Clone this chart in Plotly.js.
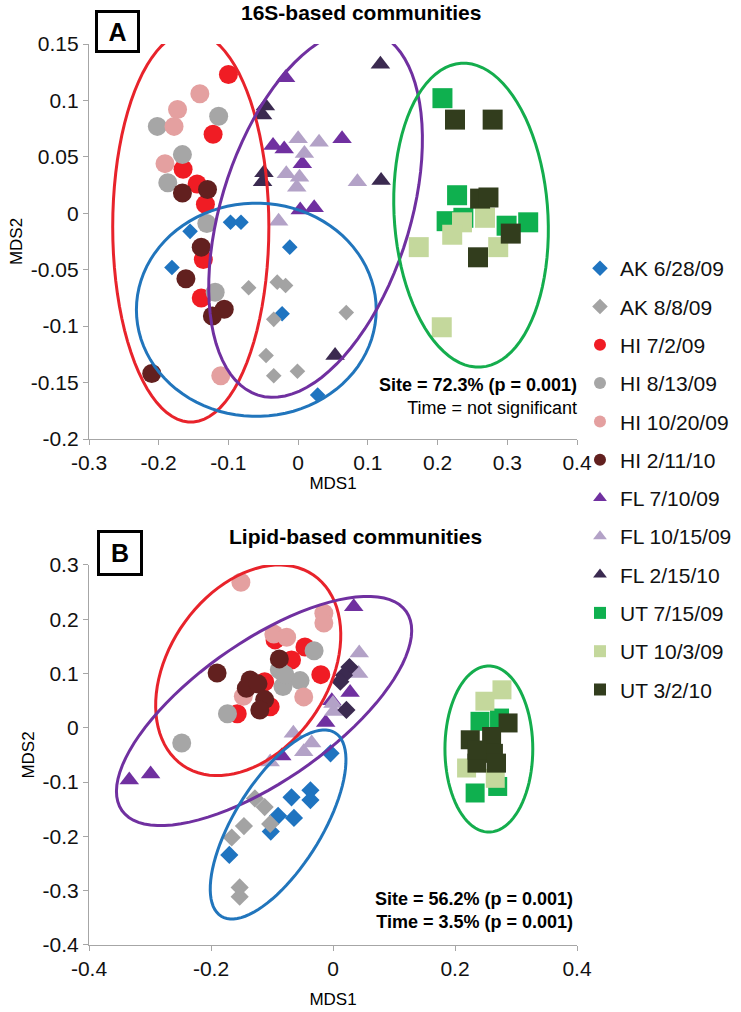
<!DOCTYPE html>
<html>
<head>
<meta charset="utf-8">
<script src="https://cdn.plot.ly/plotly-3.0.1.min.js"></script>
<style>html,body{margin:0;padding:0;background:#fff;}#chart{width:741px;height:1012px;}</style>
</head>
<body>
<div id="chart"></div>
<script>
// ---------- categories / styles ----------
const categories = ['AK 6/28/09','AK 8/8/09','HI 7/2/09','HI 8/13/09','HI 10/20/09','HI 2/11/10',
                    'FL 7/10/09','FL 10/15/09','FL 2/15/10','UT 7/15/09','UT 10/3/09','UT 3/2/10'];
const colors = ['#1f74c0','#a3a3a3','#f01c24','#a6a6a6','#e4a0a0','#62201f',
                '#7030a0','#b3a2c7','#3b2a50','#0fb04f','#c4d89c','#323d1d'];
const symbolsA = ['diamond','diamond','circle','circle','circle','circle',
                  'triangle-up','triangle-up','triangle-up','square','square','square'];
const symbolsB = ['diamond','diamond','circle','circle','circle','circle',
                  'triangle-up','triangle-up','diamond','square','square','square'];

// ---------- Panel A (16S) ----------
const A_AK0628_x = [-0.155,-0.097,-0.082,-0.012,-0.181,-0.023,0.028];
const A_AK0628_y = [-0.016,-0.008,-0.008,-0.030,-0.048,-0.089,-0.161];
const A_AK0808_x = [-0.071,-0.030,-0.018,-0.035,0.069,-0.046,-0.035,-0.001];
const A_AK0808_y = [-0.066,-0.061,-0.064,-0.094,-0.088,-0.126,-0.144,-0.140];
const A_HI0702_x = [-0.100,-0.122,-0.165,-0.145,-0.133,-0.136,-0.139];
const A_HI0702_y = [0.123,0.070,0.039,0.026,0.008,-0.041,-0.075];
const A_HI0813_x = [-0.202,-0.114,-0.166,-0.187,-0.131,-0.119];
const A_HI0813_y = [0.077,0.086,0.052,0.027,-0.009,-0.070];
const A_HI1020_x = [-0.141,-0.173,-0.178,-0.191,-0.111];
const A_HI1020_y = [0.106,0.092,0.077,0.044,-0.144];
const A_HI0211_x = [-0.166,-0.130,-0.139,-0.161,-0.106,-0.123,-0.210];
const A_HI0211_y = [0.018,0.021,-0.030,-0.058,-0.085,-0.091,-0.142];
const A_FL0710_x = [-0.018,-0.036,-0.020,0.063,0.006,0.003,0.023];
const A_FL0710_y = [0.120,0.060,0.057,0.066,0.044,0.003,0.005];
const A_FL1015_x = [0.000,0.030,0.009,-0.017,0.002,-0.002,-0.028,0.085];
const A_FL1015_y = [0.066,0.063,0.053,0.035,0.032,0.023,-0.007,0.028];
const A_FL0215_x = [-0.047,-0.051,-0.049,-0.051,0.118,0.119,0.053];
const A_FL0215_y = [0.095,0.087,0.036,0.028,0.132,0.029,-0.126];
const A_UT0715_x = [0.207,0.228,0.213,0.237,0.299,0.330];
const A_UT0715_y = [0.102,0.016,-0.007,-0.004,-0.011,-0.008];
const A_UT1003_x = [0.235,0.221,0.268,0.287,0.173,0.206];
const A_UT1003_y = [-0.008,-0.019,-0.004,-0.030,-0.030,-0.101];
const A_UT0302_x = [0.225,0.279,0.261,0.273,0.305,0.258];
const A_UT0302_y = [0.083,0.083,0.013,0.014,-0.018,-0.039];

// ---------- Panel B (lipid) ----------
const B_AK0628_x = [-0.004,-0.068,-0.037,-0.037,-0.090,-0.064,-0.102,-0.170];
const B_AK0628_y = [-0.047,-0.128,-0.115,-0.133,-0.162,-0.166,-0.191,-0.234];
const B_AK0808_x = [-0.128,-0.112,-0.103,-0.146,-0.166,-0.153,-0.153];
const B_AK0808_y = [-0.130,-0.146,-0.177,-0.181,-0.202,-0.294,-0.311];
const B_HI0702_x = [-0.046,-0.068,-0.020,-0.157,-0.103,-0.095,-0.112];
const B_HI0702_y = [0.149,0.125,0.098,0.026,0.039,0.162,0.085];
const B_HI0813_x = [-0.031,-0.088,-0.082,-0.054,-0.173,-0.248,-0.079];
const B_HI0813_y = [0.142,0.107,0.076,0.087,0.026,-0.028,0.098];
const B_HI1020_x = [-0.151,-0.015,-0.015,-0.097,-0.076,-0.048,-0.147];
const B_HI1020_y = [0.268,0.211,0.193,0.173,0.167,0.057,0.058];
const B_HI0211_x = [-0.088,-0.190,-0.136,-0.142,-0.123,-0.112,-0.120];
const B_HI0211_y = [0.127,0.101,0.088,0.073,0.081,0.052,0.033];
const B_FL0710_x = [0.034,0.028,-0.002,-0.012,-0.084,-0.334,-0.299];
const B_FL0710_y = [0.223,0.065,0.050,0.010,-0.052,-0.096,-0.085];
const B_FL1015_x = [0.043,0.042,0.000,0.001,-0.065,-0.035,-0.048,-0.103];
const B_FL1015_y = [0.138,0.100,0.045,0.030,-0.010,-0.028,-0.044,-0.063];
const B_FL0215_x = [0.027,0.018,0.012,0.022];
const B_FL0215_y = [0.112,0.097,0.085,0.033];
const B_UT0715_x = [0.241,0.273,0.233,0.270];
const B_UT0715_y = [0.012,0.018,-0.120,-0.108];
const B_UT1003_x = [0.277,0.249,0.219,0.266];
const B_UT1003_y = [0.070,0.049,-0.074,-0.093];
const B_UT0302_x = [0.287,0.225,0.260,0.263,0.236,0.268,0.236];
const B_UT0302_y = [0.009,-0.022,-0.016,-0.047,-0.065,-0.065,-0.041];

// ---------- ticks ----------
const xTicksA = [-0.3,-0.2,-0.1,0,0.1,0.2,0.3,0.4];
const xTickTextA = ['-0.3','-0.2','-0.1','0','0.1','0.2','0.3','0.4'];
const yTicksA = [-0.2,-0.15,-0.1,-0.05,0,0.05,0.1,0.15];
const yTickTextA = ['-0.2','-0.15','-0.1','-0.05','0','0.05','0.1','0.15'];
const xTicksB = [-0.4,-0.2,0,0.2,0.4];
const xTickTextB = ['-0.4','-0.2','0','0.2','0.4'];
const yTicksB = [-0.4,-0.3,-0.2,-0.1,0,0.1,0.2,0.3];
const yTickTextB = ['-0.4','-0.3','-0.2','-0.1','0','0.1','0.2','0.3'];

// ---------- group ellipses: [cx, cy, ux, uy, vx, vy] ----------
const ellA_red    = [-0.154,-0.012, 0.112,0.0, 0.0,0.173];
const ellA_blue   = [-0.060,-0.0855,0.172,0.0, 0.0,0.0945];
const ellA_purple = [0.025,0.000, 0.0826,0.1611, -0.1291,0.02536];
const ellA_green  = [0.248,-0.0017, -0.01418,0.1346, -0.110,-0.00444];
const ellB_red    = [-0.139,0.106, 0.1069,0.1754, -0.1077,0.0828];
const ellB_purple = [-0.113,0.031, 0.233,0.1833, -0.0654,0.1049];
const ellB_blue   = [-0.090,-0.178, 0.0933,0.169, -0.0606,0.0422];
const ellB_green  = [0.2555,-0.039, 0.072,0.0, 0.0,0.153];
const ellColors = {red:'#e8232b', blue:'#2175bc', purple:'#7030a0', green:'#14ad4d'};

const FONT = 'Liberation Sans, Arial, sans-serif';

const seriesA = [[A_AK0628_x,A_AK0628_y],[A_AK0808_x,A_AK0808_y],[A_HI0702_x,A_HI0702_y],[A_HI0813_x,A_HI0813_y],
  [A_HI1020_x,A_HI1020_y],[A_HI0211_x,A_HI0211_y],[A_FL0710_x,A_FL0710_y],[A_FL1015_x,A_FL1015_y],
  [A_FL0215_x,A_FL0215_y],[A_UT0715_x,A_UT0715_y],[A_UT1003_x,A_UT1003_y],[A_UT0302_x,A_UT0302_y]];
const seriesB = [[B_AK0628_x,B_AK0628_y],[B_AK0808_x,B_AK0808_y],[B_HI0702_x,B_HI0702_y],[B_HI0813_x,B_HI0813_y],
  [B_HI1020_x,B_HI1020_y],[B_HI0211_x,B_HI0211_y],[B_FL0710_x,B_FL0710_y],[B_FL1015_x,B_FL1015_y],
  [B_FL0215_x,B_FL0215_y],[B_UT0715_x,B_UT0715_y],[B_UT1003_x,B_UT1003_y],[B_UT0302_x,B_UT0302_y]];

function markerSize(sym, panel){
  if (sym === 'circle') return 19;
  if (sym === 'square') return panel === 'A' ? 20 : 19;
  if (sym === 'diamond') return panel === 'A' ? 12 : 14;
  return 17;
}

const traces = [];
categories.forEach((name, i) => {
  traces.push({
    type:'scatter', mode:'markers', name:name, legendgroup:name, showlegend:true,
    x: seriesA[i][0], y: seriesA[i][1], xaxis:'x', yaxis:'y',
    marker:{symbol:symbolsA[i], color:colors[i], size:markerSize(symbolsA[i],'A'), line:{width:0}}
  });
});
categories.forEach((name, i) => {
  traces.push({
    type:'scatter', mode:'markers', name:name, legendgroup:name, showlegend:false,
    x: seriesB[i][0], y: seriesB[i][1], xaxis:'x2', yaxis:'y2',
    marker:{symbol:symbolsB[i], color:colors[i], size:markerSize(symbolsB[i],'B'), line:{width:0}}
  });
});

function ellipsePath(e){
  const [cx,cy,ux,uy,vx,vy] = e;
  let d = '';
  const n = 90;
  for (let k = 0; k <= n; k++){
    const t = 2*Math.PI*k/n;
    const x = cx + ux*Math.cos(t) + vx*Math.sin(t);
    const y = cy + uy*Math.cos(t) + vy*Math.sin(t);
    d += (k ? 'L' : 'M') + x.toFixed(5) + ',' + y.toFixed(5);
  }
  return d + 'Z';
}
function ellShape(e, color, xr, yr){
  return {type:'path', path:ellipsePath(e), xref:xr, yref:yr, line:{color:color, width:3}, fillcolor:'rgba(0,0,0,0)', layer:'above'};
}
const shapes = [
  ellShape(ellA_red, ellColors.red, 'x','y'),
  ellShape(ellA_blue, ellColors.blue, 'x','y'),
  ellShape(ellA_purple, ellColors.purple, 'x','y'),
  ellShape(ellA_green, ellColors.green, 'x','y'),
  ellShape(ellB_red, ellColors.red, 'x2','y2'),
  ellShape(ellB_purple, ellColors.purple, 'x2','y2'),
  ellShape(ellB_blue, ellColors.blue, 'x2','y2'),
  ellShape(ellB_green, ellColors.green, 'x2','y2')
];

const axisCommon = {
  showline:true, linecolor:'#a6a6a6', linewidth:1.3, ticks:'outside', ticklen:5, tickcolor:'#a6a6a6',
  tickwidth:1.3, showgrid:false, zeroline:false, tickfont:{family:FONT, size:21, color:'#111'}, fixedrange:true
};

const layout = {
  width:741, height:1012,
  margin:{l:89, r:164, t:44, b:67},
  paper_bgcolor:'#fff', plot_bgcolor:'#fff',
  font:{family:FONT, color:'#000'},
  xaxis: Object.assign({}, axisCommon, {domain:[0,1], anchor:'y', range:[-0.3,0.4], tickmode:'array',
    tickvals:xTicksA, ticktext:xTickTextA, title:{text:'MDS1', font:{family:FONT,size:17}, standoff:0}}),
  yaxis: Object.assign({}, axisCommon, {domain:[0.5616,1], anchor:'x', range:[-0.2,0.15], tickmode:'array',
    tickvals:yTicksA, ticktext:yTickTextA, title:{text:'MDS2', font:{family:FONT,size:17}, standoff:3}}),
  xaxis2: Object.assign({}, axisCommon, {domain:[0,1], anchor:'y2', range:[-0.4,0.4], tickmode:'array',
    tickvals:xTicksB, ticktext:xTickTextB, title:{text:'MDS1', font:{family:FONT,size:17}, standoff:13}}),
  yaxis2: Object.assign({}, axisCommon, {domain:[0,0.4218], anchor:'x2', range:[-0.4,0.3], tickmode:'array',
    tickvals:yTicksB, ticktext:yTickTextB, title:{text:'MDS2', font:{family:FONT,size:17}, standoff:3}}),
  showlegend:true,
  legend:{xref:'container', yref:'container', x:0.7827, xanchor:'left', y:0.7549, yanchor:'top',
    font:{family:FONT, size:21, color:'#111'},
    itemsizing:'constant', tracegroupgap:8, bgcolor:'rgba(0,0,0,0)', borderwidth:0},
  shapes: shapes,
  annotations:[
    {xref:'paper', yref:'paper', x:0.0584, y:1.0139, xanchor:'center', yanchor:'middle', showarrow:false,
     text:'<b>A</b>', font:{family:FONT, size:25, color:'#000'}, bordercolor:'#000', borderwidth:3, borderpad:0,
     width:39, height:37, bgcolor:'#fff'},
    {xref:'paper', yref:'paper', x:0.0635, y:0.4351, xanchor:'center', yanchor:'middle', showarrow:false,
     text:'<b>B</b>', font:{family:FONT, size:25, color:'#000'}, bordercolor:'#000', borderwidth:3, borderpad:0,
     width:40, height:40, bgcolor:'#fff'},
    {xref:'paper', yref:'paper', x:0.5575, y:1.0355, xanchor:'center', yanchor:'middle', showarrow:false,
     text:'<b>16S-based communities</b>', font:{family:FONT, size:21, color:'#000'}},
    {xref:'paper', yref:'paper', x:0.5471, y:0.4539, xanchor:'center', yanchor:'middle', showarrow:false,
     text:'<b>Lipid-based communities</b>', font:{family:FONT, size:21, color:'#000'}},
    {xref:'paper', yref:'paper', x:1.005, y:0.6093, xanchor:'right', yanchor:'middle', align:'right', showarrow:false,
     text:'<b>Site = 72.3% (p = 0.001)</b><br>Time = not significant', font:{family:FONT, size:18, color:'#000'}},
    {xref:'paper', yref:'paper', x:0.995, y:0.0383, xanchor:'right', yanchor:'middle', align:'right', showarrow:false,
     text:'<b>Site = 56.2% (p = 0.001)</b><br><b>Time = 3.5% (p = 0.001)</b>', font:{family:FONT, size:18, color:'#000'}}
  ]
};

Plotly.newPlot('chart', traces, layout, {displayModeBar:false, staticPlot:false});
</script>
</body>
</html>
